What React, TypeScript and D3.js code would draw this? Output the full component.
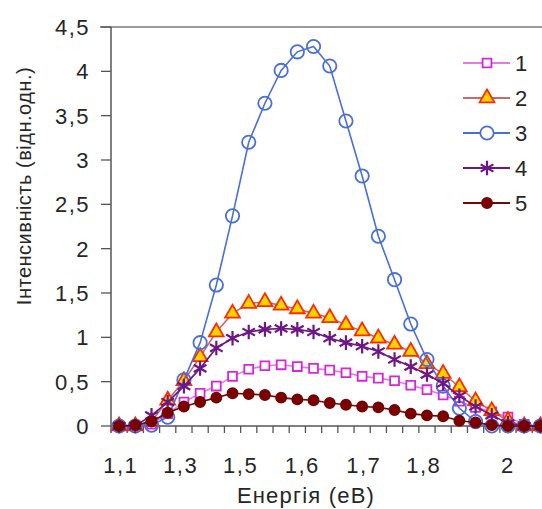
import React from 'react';
import * as d3 from 'd3';

// chart size
const svgWidth = 542;
const svgHeight = 509;
const axisLeft = 111;   // y axis position
const plotTop = 27;     // top border
const plotBottom = 426; // y = 0

// data (one value per category)
const seriesNames = ['1', '2', '3', '4', '5'];
const s1 = [0, 0, 0.02, 0.14, 0.27, 0.37, 0.45, 0.56, 0.64, 0.68, 0.69, 0.67, 0.65, 0.63, 0.6, 0.56, 0.54, 0.51, 0.46, 0.41, 0.35, 0.28, 0.21, 0.16, 0.1, 0.02, 0];
const s2 = [0, 0, 0.05, 0.29, 0.51, 0.78, 1.06, 1.27, 1.38, 1.4, 1.36, 1.32, 1.27, 1.22, 1.14, 1.07, 0.99, 0.92, 0.84, 0.7, 0.59, 0.44, 0.28, 0.17, 0.06, 0, 0];
const s3 = [0, 0, 0.01, 0.1, 0.52, 0.94, 1.59, 2.37, 3.2, 3.64, 4.01, 4.22, 4.28, 4.06, 3.44, 2.82, 2.14, 1.65, 1.15, 0.75, 0.45, 0.2, 0.05, 0, 0, 0, 0];
const s4 = [0, 0, 0.12, 0.27, 0.45, 0.65, 0.88, 0.99, 1.06, 1.09, 1.1, 1.09, 1.06, 0.99, 0.94, 0.9, 0.84, 0.75, 0.67, 0.58, 0.48, 0.34, 0.22, 0.12, 0.03, 0, 0];
const s5 = [0, 0.01, 0.05, 0.15, 0.22, 0.27, 0.32, 0.37, 0.36, 0.35, 0.32, 0.3, 0.29, 0.26, 0.24, 0.22, 0.21, 0.18, 0.14, 0.12, 0.11, 0.06, 0.04, 0.01, 0, 0, 0];

// x tick labels and where they sit (in category units)
const xTickLabels = ['1,1', '1,3', '1,5', '1,6', '1,7', '1,8', '2'];
const xTickAt = [0.1, 3.8, 7.5, 11.3, 15.1, 18.8, 24.0];
const yTicks = [0, 0.5, 1, 1.5, 2, 2.5, 3, 3.5, 4, 4.5];

// look of each series
const styles = [
  { line: '#e27be2', stroke: '#d726d7', fill: '#ffffff', type: d3.symbolSquare, size: 78 },
  { line: '#c86a6a', stroke: '#ff2a00', fill: '#ffd400', type: d3.symbolTriangle, size: 95 },
  { line: '#4a6fd6', stroke: '#4a6fd6', fill: 'none', type: d3.symbolCircle, size: 140 },
  { line: '#6e1685', stroke: '#6e1685', fill: 'none', type: d3.symbolAsterisk, size: 150 },
  { line: '#6b0a0a', stroke: '#7a0000', fill: '#7a0000', type: d3.symbolCircle, size: 80 },
];

const font = 'Liberation Sans, Arial, sans-serif';
const textColor = '#262626';

const x = d3.scaleLinear().domain([-0.5, 26.1]).range([axisLeft, svgWidth]);
const y = d3.scaleLinear().domain([0, 4.5]).range([plotBottom, plotTop]);

const line = d3.line<number>()
  .x((_, i) => x(i))
  .y((d) => y(d));

export default function App() {
  const allSeries = [s1, s2, s3, s4, s5];
  const boundaries = d3.range(0, s1.length).map((i) => i + 0.5);

  return (
    <svg width={svgWidth} height={svgHeight}
      style={{ position: 'absolute', left: 0, top: 0, background: '#fff' }}
      fontFamily={font}>
      {/* top border */}
      <line x1={100} x2={svgWidth} y1={plotTop} y2={plotTop} stroke="#777" strokeWidth={1.5} />

      {/* y axis + ticks */}
      <line x1={axisLeft} x2={axisLeft} y1={plotTop} y2={plotBottom + 7} stroke="#555" strokeWidth={1.5} />
      {yTicks.map((t) => (
        <g key={t}>
          <line x1={101} x2={axisLeft} y1={y(t)} y2={y(t)} stroke="#555" strokeWidth={1.3} />
          <text x={90} y={y(t)} dy="0.36em" textAnchor="end" fontSize={22} letterSpacing={1.5} fill={textColor}>
            {String(t).replace('.', ',')}
          </text>
        </g>
      ))}

      {/* x axis + category ticks */}
      <line x1={axisLeft} x2={svgWidth} y1={plotBottom} y2={plotBottom} stroke="#555" strokeWidth={1.5} />
      {boundaries.map((b) => (
        <line key={b} x1={x(b)} x2={x(b)} y1={plotBottom} y2={plotBottom + 7} stroke="#555" strokeWidth={1.3} />
      ))}
      {xTickLabels.map((lab, i) => (
        <text key={lab} x={x(xTickAt[i])} y={473} textAnchor="middle" fontSize={22} letterSpacing={1.5} fill={textColor}>{lab}</text>
      ))}

      {/* series */}
      {allSeries.map((data, k) => {
        const st = styles[k];
        const sym = d3.symbol().type(st.type).size(st.size)();
        return (
          <g key={k}>
            <path d={line(data) || ''} fill="none" stroke={st.line} strokeWidth={1.6} />
            {data.map((v, i) => (
              <path key={i} d={sym || ''} transform={`translate(${x(i)},${y(v)})`}
                fill={st.fill} stroke={st.stroke} strokeWidth={k === 3 ? 2.2 : 1.8} />
            ))}
          </g>
        );
      })}

      {/* legend */}
      {seriesNames.map((name, k) => {
        const st = styles[k];
        const ly = 63 + k * 35;
        const sym = d3.symbol().type(st.type).size(st.size)();
        return (
          <g key={name}>
            <line x1={463} x2={510} y1={ly} y2={ly} stroke={st.line} strokeWidth={1.8} />
            <path d={sym || ''} transform={`translate(487,${ly})`}
              fill={st.fill === 'none' ? '#fff' : st.fill} stroke={st.stroke} strokeWidth={k === 3 ? 2.2 : 1.8} />
            <text x={515} y={ly} dy="0.36em" fontSize={22} fill={textColor}>{name}</text>
          </g>
        );
      })}

      {/* axis titles */}
      <text x={306} y={503} textAnchor="middle" fontSize={22} letterSpacing={1.2} fill={textColor}>Енергія (еВ)</text>
      <text transform={`translate(24,186) rotate(-90)`} textAnchor="middle" dy="0.35em" fontSize={20} letterSpacing={0.5} fill={textColor}>
        Інтенсивність (відн.одн.)
      </text>
    </svg>
  );
}
